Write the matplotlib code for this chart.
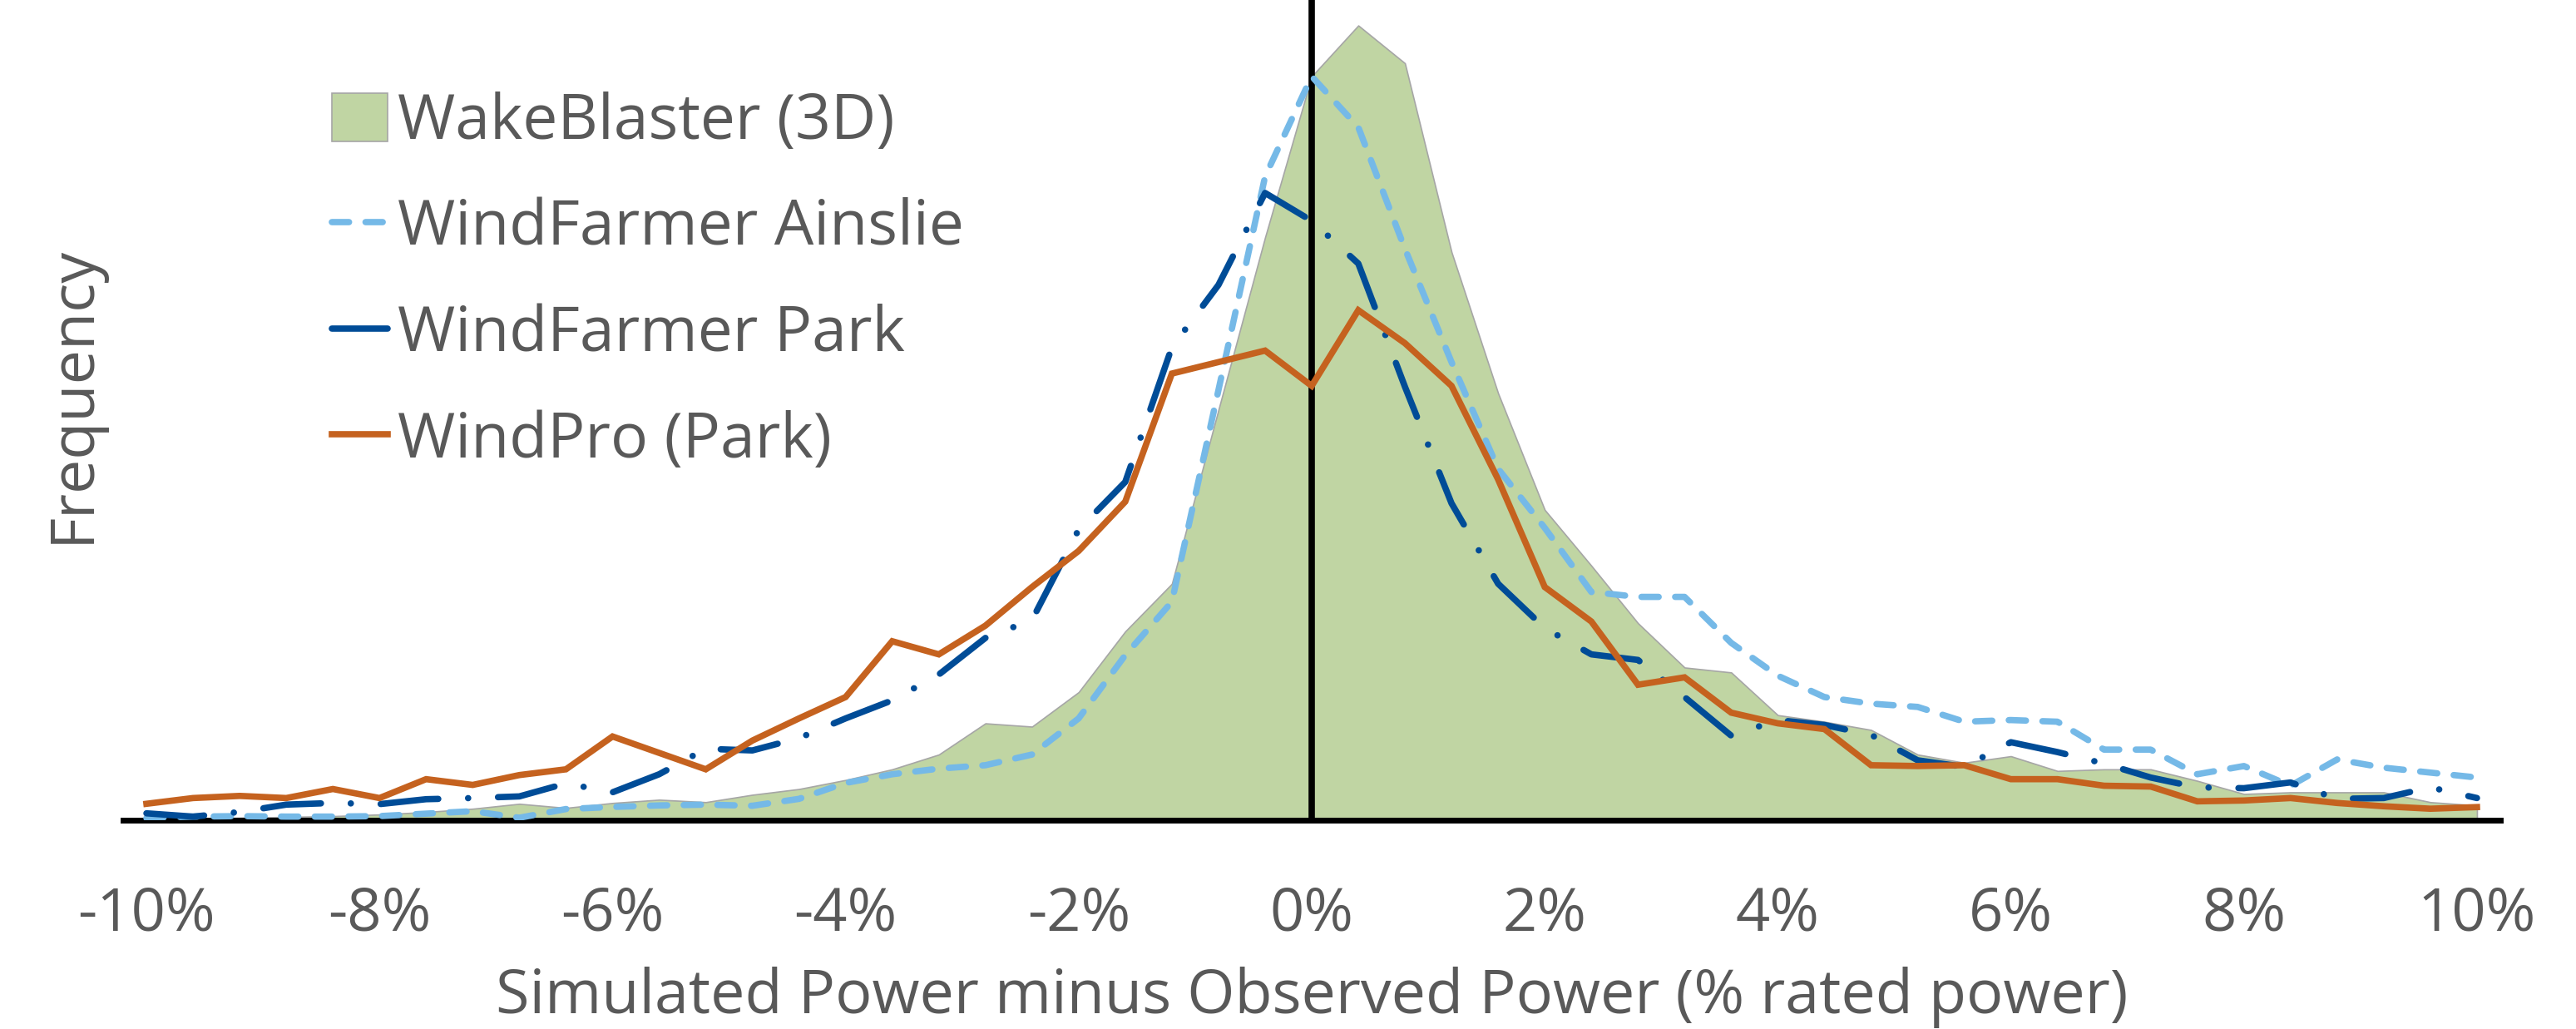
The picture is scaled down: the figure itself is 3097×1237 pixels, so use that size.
import numpy as np
import matplotlib
matplotlib.use('Agg')
import matplotlib.pyplot as plt
from matplotlib.patches import Patch
from matplotlib.lines import Line2D

plt.rcParams['font.family'] = ['Open Sans', 'DejaVu Sans']

# bin centres (% rated power)
bins = [-10.0, -9.6, -9.2, -8.8, -8.4, -8.0, -7.6, -7.2, -6.8, -6.4,
        -6.0, -5.6, -5.2, -4.8, -4.4, -4.0, -3.6, -3.2, -2.8, -2.4,
        -2.0, -1.6, -1.2, -0.8, -0.4, 0.0, 0.4, 0.8, 1.2, 1.6,
        2.0, 2.4, 2.8, 3.2, 3.6, 4.0, 4.4, 4.8, 5.2, 5.6,
        6.0, 6.4, 6.8, 7.2, 7.6, 8.0, 8.4, 8.8, 9.2, 9.6, 10.0]

# frequency (arbitrary units)
wakeblaster = [0.5, 1, 1.5, 2, 2.5, 3.5, 5, 7, 10, 7.5,
               10.5, 12.5, 11, 15.5, 19, 24.5, 31, 40, 59, 57,
               78, 115, 144, 250, 355, 453, 484, 461, 346, 260,
               189, 155, 120, 93, 90, 64, 60, 55, 40, 35,
               39, 30, 31, 31, 24, 16, 17, 17, 17, 11, 9]
wf_ainslie = [1.3, 2.2, 2.5, 2.2, 2.2, 2.5, 4, 5.5, 1.5, 6.8,
              8.1, 9, 9.5, 8.8, 13, 22.7, 28, 31.4, 33.5, 40,
              62, 100.5, 133, 262, 392, 453, 422, 348, 279, 214,
              178, 139, 136, 136, 108, 88, 75, 71, 69, 60,
              61, 60, 43, 43, 28, 33, 21, 37, 32, 29, 26]
wf_park = [4.2, 2.2, 5, 9.5, 10.5, 9.8, 12.8, 13.5, 14.5, 22.4,
           17, 28, 43.5, 42.5, 50, 62, 73, 88.7, 111, 122,
           177, 206, 288, 326, 382, 365, 339, 264, 193, 144,
           117, 101, 97.6, 75, 51.5, 61, 58, 52, 36.5, 32.5,
           47.5, 41.5, 34.5, 26, 20, 19.5, 23, 13, 13.5, 20, 13.5]
windpro = [10, 13.5, 14.8, 13.5, 19, 13.5, 25, 21.5, 27.5, 31,
           51, 41, 31, 48.5, 62, 75, 109, 101, 118.5, 142,
           164, 194, 272, 279, 286, 264.5, 310.6, 290.5, 264.5, 207.5,
           142, 121, 82.5, 87, 65.5, 59, 55.5, 33.5, 33, 33.5,
           25, 25, 21, 20.5, 11.5, 12, 13.5, 10.5, 8.5, 7, 8]

tick_pos = [-10, -8, -6, -4, -2, 0, 2, 4, 6, 8, 10]
tick_lab = ['-10%', '-8%', '-6%', '-4%', '-2%', '0%', '2%', '4%', '6%', '8%', '10%']

c_green = '#C0D5A3'
c_light = '#75B9E7'
c_dark = '#004C97'
c_orange = '#C5621F'
c_text = '#595959'

lw = 5.5
dash_ainslie = (2.7, 2.6)
dash_park = (9.1, 4.7, 0.01, 4.7)

fig = plt.figure(figsize=(30.97, 12.37), dpi=100)
ax = fig.add_axes([0.0478, 0.2029, 0.9228, 0.7971])

ax.fill_between(bins, wakeblaster, 0, color=c_green, edgecolor='#A6A6A6',
                linewidth=1.2, zorder=1)
ax.axvline(0, color='black', lw=5.5, zorder=2)

ax.plot(bins, wf_ainslie, color=c_light, lw=lw, dashes=dash_ainslie,
        dash_capstyle='round', dash_joinstyle='round', zorder=3)
ax.plot(bins, wf_park, color=c_dark, lw=lw, dashes=dash_park,
        dash_capstyle='round', dash_joinstyle='round', zorder=4)
ax.plot(bins, windpro, color=c_orange, lw=lw, solid_joinstyle='miter', zorder=5)

ax.set_xlim(-10.2, 10.2)
ax.set_ylim(0, 499.5)
for s in ['top', 'right', 'left']:
    ax.spines[s].set_visible(False)
ax.spines['bottom'].set_linewidth(5)
ax.spines['bottom'].set_color('black')
ax.set_yticks([])
ax.set_xticks(tick_pos)
ax.set_xticklabels(tick_lab)
ax.tick_params(axis='x', length=0, pad=56, labelsize=52, labelcolor=c_text)

ax.set_xlabel('Simulated Power minus Observed Power (% rated power)',
              fontsize=53, color=c_text)
ax.xaxis.set_label_coords(0.5, -0.178)
ax.set_ylabel('Frequency', fontsize=53, color=c_text)
ax.yaxis.set_label_coords(-0.008, 0.519)

handles = [
    Patch(facecolor=c_green, edgecolor='#A6A6A6', linewidth=1.2, label='WakeBlaster (3D)'),
    Line2D([0], [0], color=c_light, lw=lw, dashes=dash_ainslie, dash_capstyle='round',
           label='WindFarmer Ainslie'),
    Line2D([0], [0], color=c_dark, lw=lw, dashes=dash_park,
           dash_capstyle='round', label='WindFarmer Park'),
    Line2D([0], [0], color=c_orange, lw=lw, label='WindPro (Park)'),
]
leg = ax.legend(handles=handles, loc='upper left', bbox_to_anchor=(0.1288, 0.911),
                bbox_transform=fig.transFigure, frameon=False, fontsize=54,
                handlelength=0.9, handleheight=0.8, handletextpad=0.15,
                labelspacing=0.70, borderpad=0, borderaxespad=0)
for t in leg.get_texts():
    t.set_color(c_text)

fig.savefig('out.png', dpi=100)
